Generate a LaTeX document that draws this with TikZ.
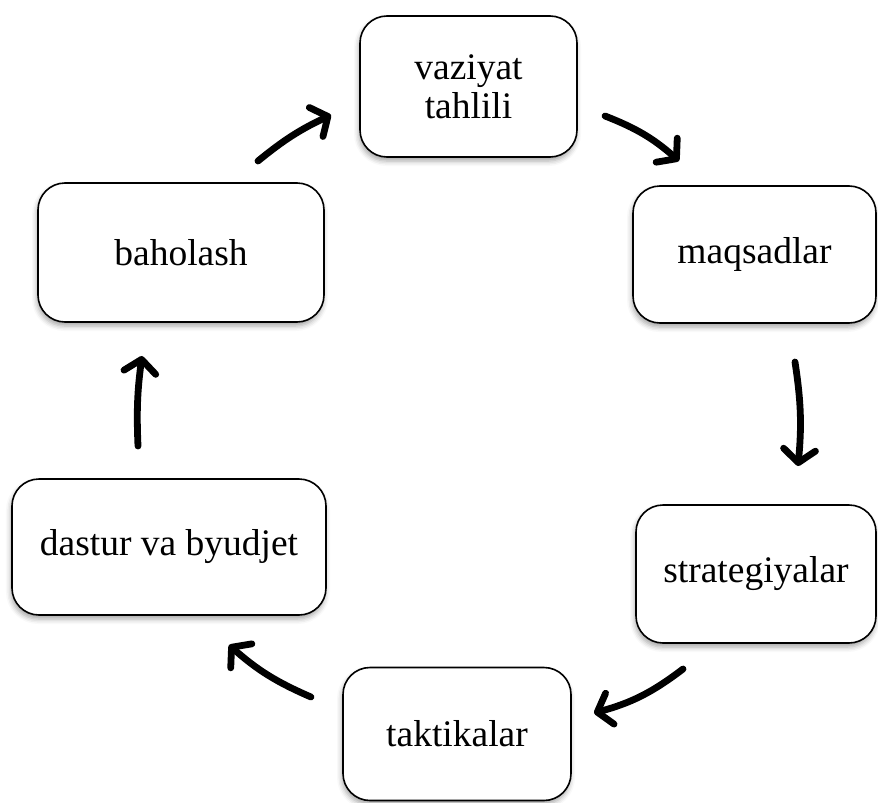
\documentclass[tikz,border=0pt]{standalone}
\usepackage{fontspec}
\setmainfont{Liberation Serif}
\usetikzlibrary{arrows.meta,shadows.blur}

\tikzset{
  stage/.style={draw=black, line width=1.6pt, rounded corners=27pt, fill=white,
    blur shadow={shadow xshift=-1pt, shadow yshift=-4pt, shadow blur radius=5pt, shadow opacity=35},
    align=center, inner sep=0pt, font=\fontsize{37.5}{39}\selectfont},
  flow/.style={line width=6.8pt, line cap=round,
    -{Straight Barb[length=13pt, width=32pt, round]}},
}

\begin{document}
\begin{tikzpicture}[x=1pt, y=-1pt]
  \useasboundingbox (0,0) rectangle (878,803);

  % stages of the cycle
  \node[stage, minimum width=217pt, minimum height=141pt] (vaz) at (468.5,86.5) {vaziyat\\tahlili};
  \node[stage, minimum width=243pt, minimum height=137pt] (maq) at (754.5,254.5) {maqsadlar};
  \node[stage, minimum width=240pt, minimum height=138pt] (str) at (756,574) {strategiyalar};
  \node[stage, minimum width=228pt, minimum height=133pt] (tak) at (457,734) {taktikalar};
  \node[stage, minimum width=314pt, minimum height=136pt] (das) at (169,547) {dastur va byudjet};
  \node[stage, minimum width=286pt, minimum height=139pt] (bah) at (181,252.5) {baholash};

  % free ends of the curved arrows
  \coordinate (a1s) at (258,161);  \coordinate (a1e) at (331,115);
  \coordinate (a2s) at (605,116);  \coordinate (a2e) at (679,161);
  \coordinate (a3s) at (795,362);  \coordinate (a3e) at (798,466);
  \coordinate (a4s) at (683,669);  \coordinate (a4e) at (594,713);
  \coordinate (a5s) at (311,697);  \coordinate (a5e) at (229,645);
  \coordinate (a6s) at (138,446);  \coordinate (a6e) at (142,356);

  \draw[flow] (a1s) to[bend left=7] (a1e);
  \draw[flow] (a2s) to[bend left=10] (a2e);
  \draw[flow] (a3s) to[bend left=7] (a3e);
  \draw[flow] (a4s) to[bend left=11] (a4e);
  \draw[flow] (a5s) to[bend left=9] (a5e);
  \draw[flow] (a6s) to[bend left=5] (a6e);
\end{tikzpicture}
\end{document}
